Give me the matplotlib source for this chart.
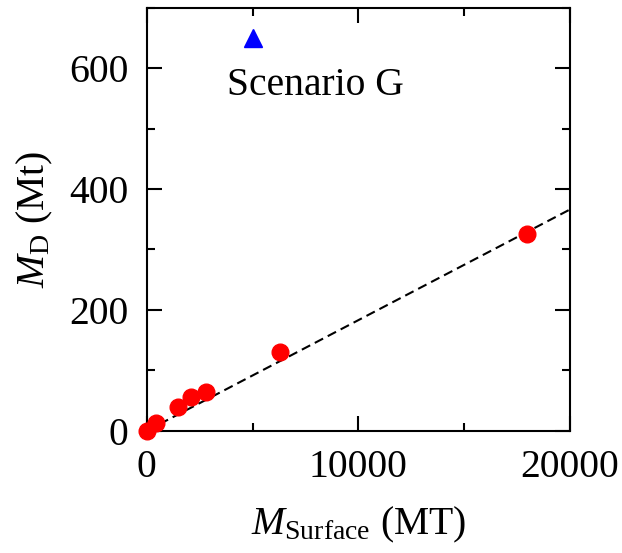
import numpy as np
import matplotlib.pyplot as plt
from matplotlib.ticker import MultipleLocator

plt.rcParams['font.family'] = 'Liberation Serif'
plt.rcParams['mathtext.fontset'] = 'custom'
plt.rcParams['mathtext.rm'] = 'Liberation Serif'
plt.rcParams['mathtext.it'] = 'Liberation Serif:italic'

# datos
m_surface = [0, 450, 1480, 2070, 2820, 6290, 17980]
m_d = [0, 13, 40, 56, 65, 130, 325]
g_x = [5000]
g_y = [650]
pendiente = 0.0183  # ajuste lineal por el origen

fig = plt.figure(figsize=(6.22, 5.53), dpi=100)
ax = fig.add_axes([0.236, 0.221, 0.680, 0.765])

xl = np.array([0, 20000])
ax.plot(xl, pendiente * xl, '--', color='black', lw=1.5, dashes=(4.5, 2.5))
ax.plot(m_surface, m_d, 'o', color='red', ms=12, clip_on=False, zorder=3)
ax.plot(g_x, g_y, '^', color='blue', ms=13, clip_on=False, zorder=3)
ax.text(3800, 572, 'Scenario G', fontsize=28.5, ha='left', va='center')

ax.set_xlim(0, 20000)
ax.set_ylim(0, 700)
ax.xaxis.set_major_locator(MultipleLocator(10000))
ax.xaxis.set_minor_locator(MultipleLocator(5000))
ax.yaxis.set_major_locator(MultipleLocator(200))
ax.yaxis.set_minor_locator(MultipleLocator(100))
ax.tick_params(which='both', direction='in', top=True, right=True, width=1.5, labelsize=28.5)
ax.tick_params(which='major', length=11, pad=13)
ax.tick_params(which='minor', length=6)
for s in ax.spines.values():
    s.set_linewidth(1.5)

ax.set_xlabel(r'$M_{\rm Surface}$ (MT)', fontsize=28.5, labelpad=14)
ax.set_ylabel(r'$M_{\rm D}$ (Mt)', fontsize=28.5, labelpad=10)

plt.savefig('out.png', dpi=100)
